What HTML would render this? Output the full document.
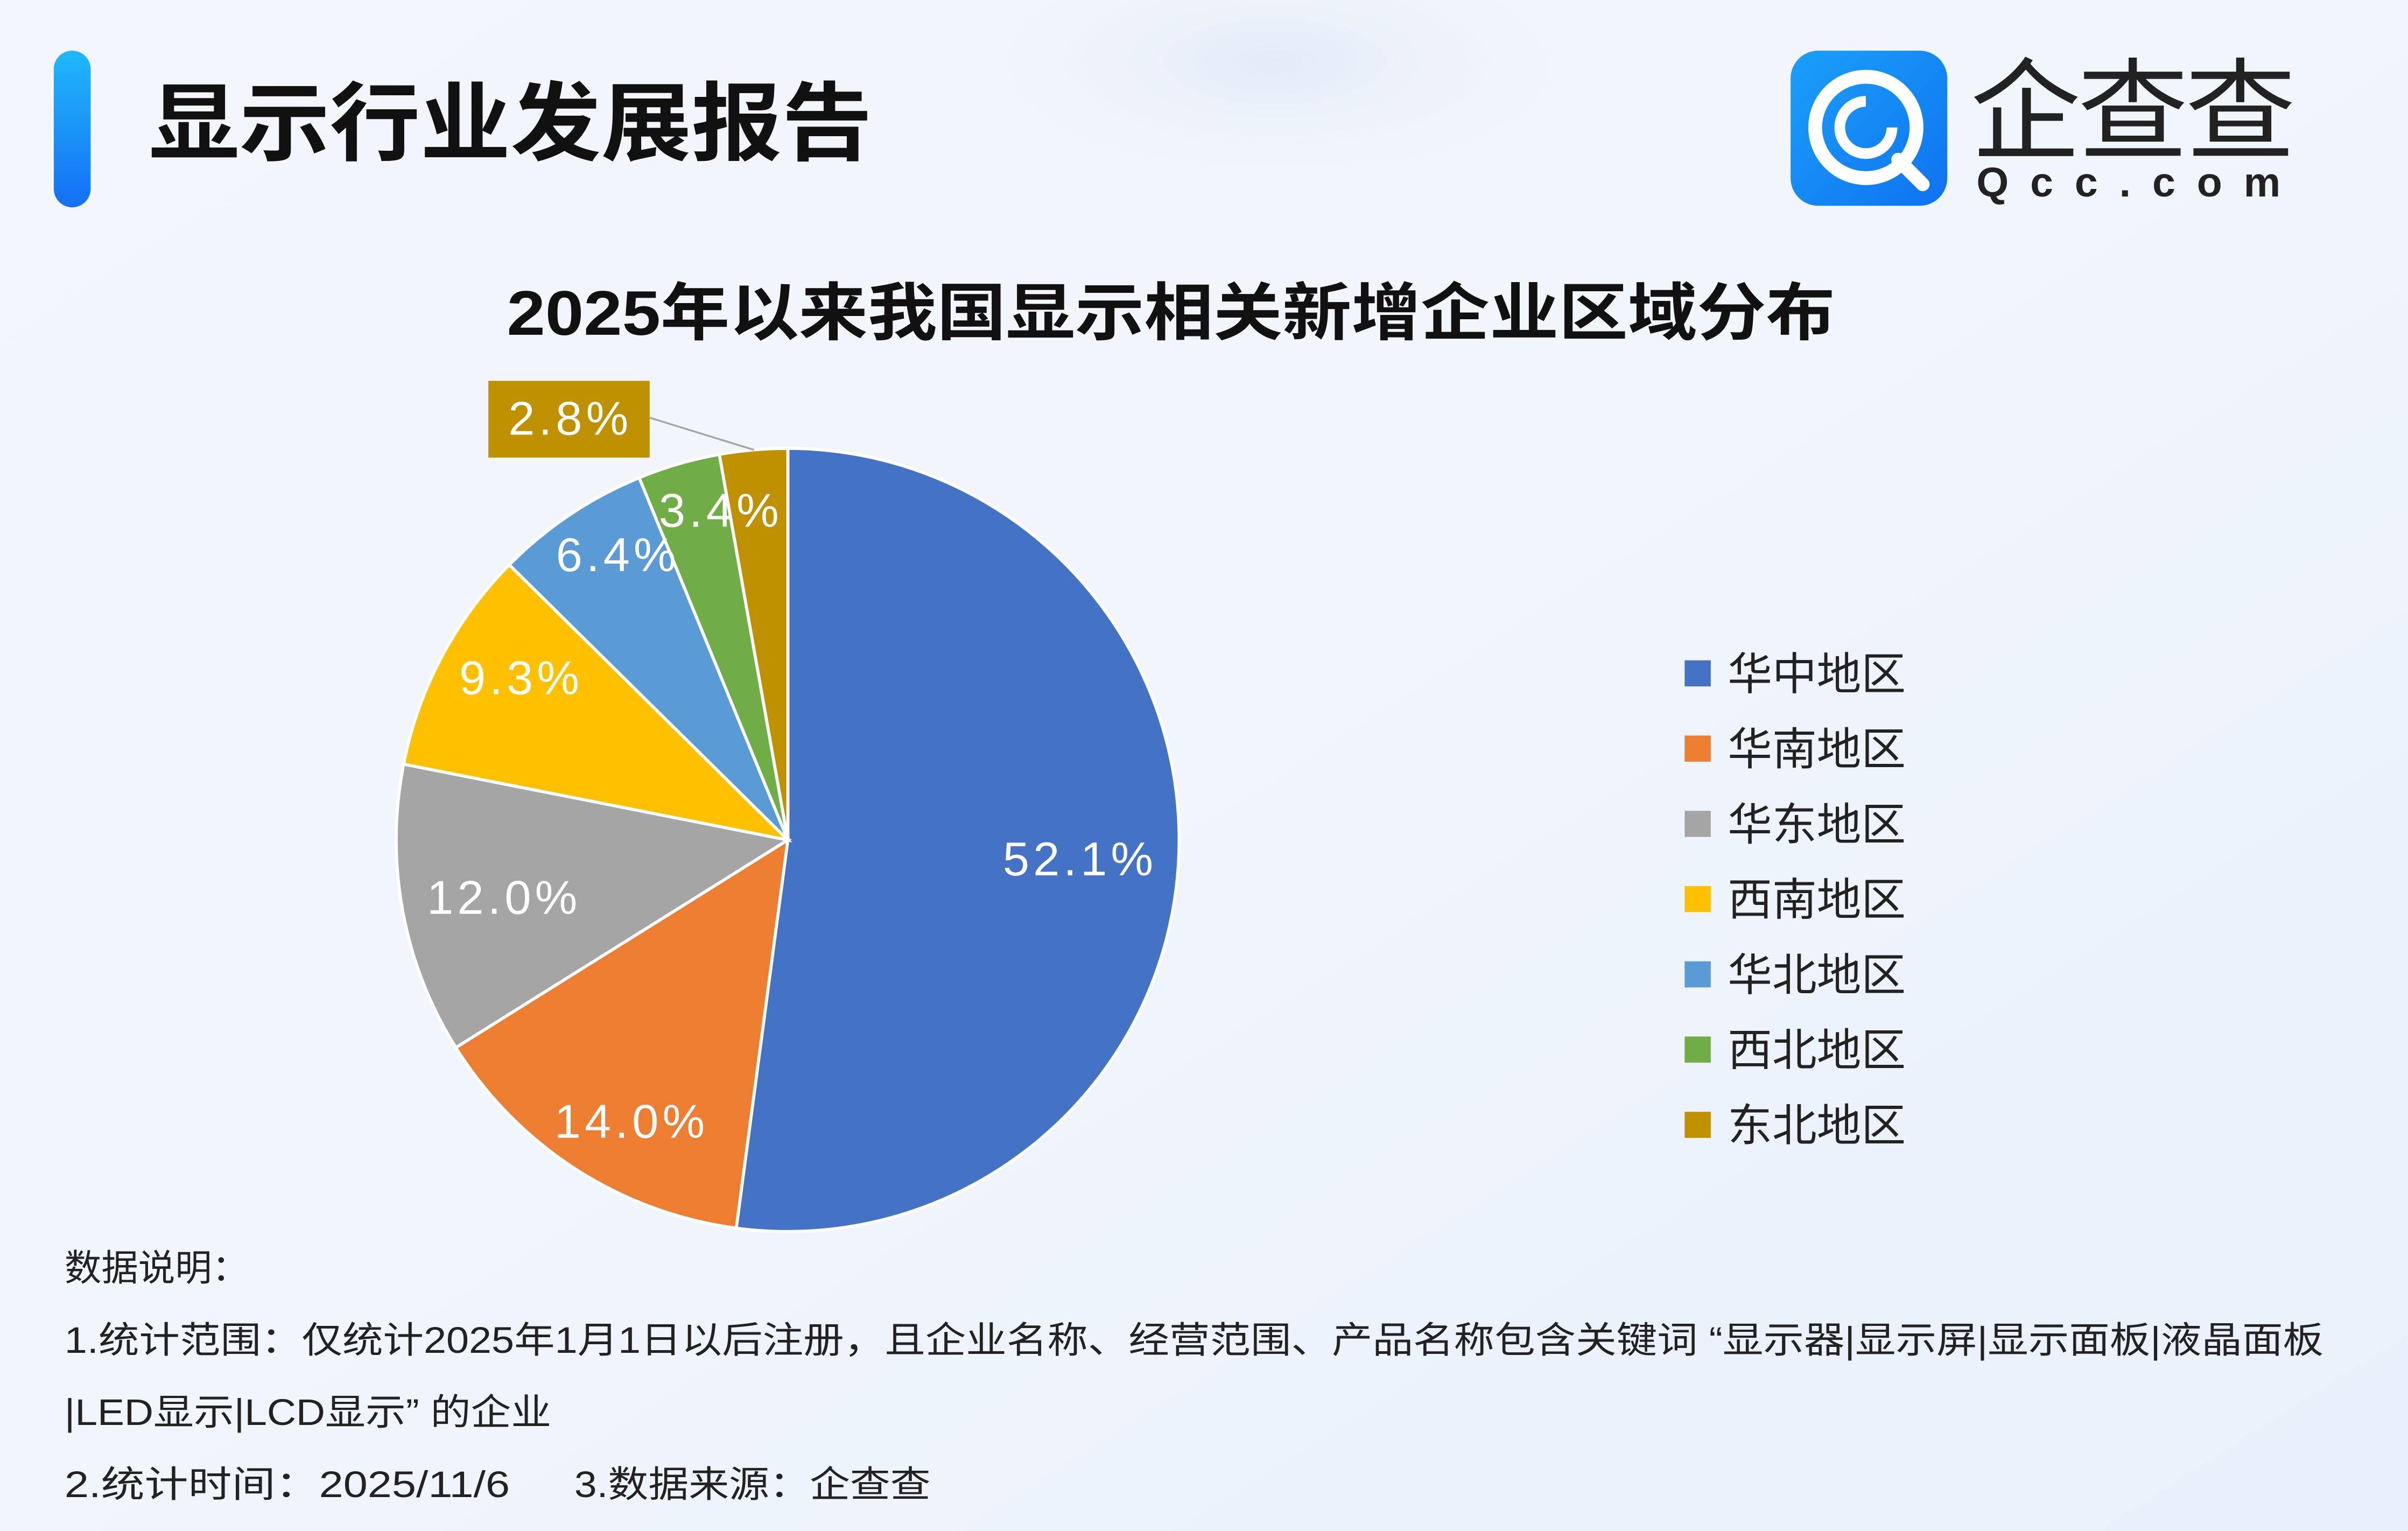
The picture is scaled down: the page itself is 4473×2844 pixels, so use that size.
<!DOCTYPE html>
<html><head><meta charset="utf-8"><style>
html,body{margin:0;padding:0;width:4473px;height:2844px;overflow:hidden;background:#f1f5fc;}
svg{display:block}
text{font-family:"Liberation Sans","Noto Sans CJK SC",sans-serif;}
</style></head><body>
<svg width="4473" height="2844" viewBox="0 0 1568 997" xmlns="http://www.w3.org/2000/svg">
<defs>
<linearGradient id="bg" x1="0" y1="0" x2="1" y2="1">
<stop offset="0" stop-color="#f3f6fc"/><stop offset="0.5" stop-color="#f1f5fc"/><stop offset="1" stop-color="#e8f0fb"/>
</linearGradient>
<radialGradient id="glow" cx="0.5" cy="0.5" r="0.5">
<stop offset="0" stop-color="#e3ebf8"/><stop offset="1" stop-color="#f1f5fc" stop-opacity="0"/>
</radialGradient>
<linearGradient id="bar" x1="0" y1="0" x2="0" y2="1">
<stop offset="0" stop-color="#1fb8fb"/><stop offset="1" stop-color="#1570f5"/>
</linearGradient>
<linearGradient id="logo" x1="0" y1="0" x2="1" y2="1">
<stop offset="0" stop-color="#1aa0fa"/><stop offset="1" stop-color="#0f72f0"/>
</linearGradient>
</defs>
<rect width="1568" height="997" fill="url(#bg)"/>
<ellipse cx="830" cy="40" rx="230" ry="90" fill="url(#glow)"/>
<rect x="35" y="33" width="24" height="102" rx="12" fill="url(#bar)"/>
<text x="97" y="100" font-size="56" font-weight="bold" fill="#111" textLength="471" lengthAdjust="spacingAndGlyphs">显示行业发展报告</text>
<rect x="1166" y="33" width="102" height="101" rx="18" fill="url(#logo)"/>
<circle cx="1215" cy="83" r="33" fill="none" stroke="#fff" stroke-width="9"/>
<path d="M1215,66 A17,17 0 1,0 1232,83" fill="none" stroke="#fff" stroke-width="7"/>
<line x1="1236" y1="104" x2="1252" y2="120" stroke="#fff" stroke-width="9" stroke-linecap="round"/>
<text x="1283" y="98" font-size="72" fill="#222" textLength="212">企查查</text>
<text x="1287" y="128" font-size="27" font-weight="bold" fill="#222" letter-spacing="14">Qcc.com</text>
<text x="330" y="218" font-size="41" font-weight="bold" fill="#111" textLength="865" lengthAdjust="spacingAndGlyphs">2025年以来我国显示相关新增企业区域分布</text>
<g stroke="#fff" stroke-width="2">
<path d="M513,547 L513,292 A255,255 0 1,1 479.4,799.8 Z" fill="#4472c4"/>
<path d="M513,547 L479.4,799.8 A255,255 0 0,1 296.8,682.2 Z" fill="#ed7d31"/>
<path d="M513,547 L296.8,682.2 A255,255 0 0,1 262.8,497.6 Z" fill="#a5a5a5"/>
<path d="M513,547 L262.8,497.6 A255,255 0 0,1 331.6,367.8 Z" fill="#ffc000"/>
<path d="M513,547 L331.6,367.8 A255,255 0 0,1 416.2,311.1 Z" fill="#5b9bd5"/>
<path d="M513,547 L416.2,311.1 A255,255 0 0,1 468.4,295.9 Z" fill="#70ad47"/>
<path d="M513,547 L468.4,295.9 A255,255 0 0,1 513,292 Z" fill="#bf9000"/>
</g>
<g font-size="31" fill="#fff" letter-spacing="2.5">
<text x="653" y="570">52.1%</text>
<text x="361" y="741">14.0%</text>
<text x="278" y="595">12.0%</text>
<text x="299" y="452">9.3%</text>
<text x="362" y="372">6.4%</text>
<text x="429" y="343">3.4%</text>
<text x="331" y="283">2.8%</text>
</g>
<line x1="423" y1="272" x2="491" y2="293" stroke="#a5a5a5" stroke-width="1.2"/>
<rect x="318" y="248" width="105" height="50" fill="#bf9000"/>
<text x="331" y="283" font-size="31" fill="#fff" letter-spacing="2.5">2.8%</text>
<g font-size="29" fill="#222">
<rect x="1097" y="430" width="17" height="17" fill="#4472c4"/><text x="1125" y="449">华中地区</text>
<rect x="1097" y="479" width="17" height="17" fill="#ed7d31"/><text x="1125" y="498">华南地区</text>
<rect x="1097" y="528" width="17" height="17" fill="#a5a5a5"/><text x="1125" y="547">华东地区</text>
<rect x="1097" y="577" width="17" height="17" fill="#ffc000"/><text x="1125" y="596">西南地区</text>
<rect x="1097" y="626" width="17" height="17" fill="#5b9bd5"/><text x="1125" y="645">华北地区</text>
<rect x="1097" y="675" width="17" height="17" fill="#70ad47"/><text x="1125" y="694">西北地区</text>
<rect x="1097" y="724" width="17" height="17" fill="#bf9000"/><text x="1125" y="743">东北地区</text>
</g>
<g font-size="24" fill="#222">
<text x="42" y="834">数据说明：</text>
<text x="42" y="881" textLength="1471" lengthAdjust="spacingAndGlyphs">1.统计范围：仅统计2025年1月1日以后注册，且企业名称、经营范围、产品名称包含关键词 “显示器|显示屏|显示面板|液晶面板</text>
<text x="42" y="928" textLength="317" lengthAdjust="spacingAndGlyphs">|LED显示|LCD显示” 的企业</text>
<text x="42" y="975" textLength="290" lengthAdjust="spacingAndGlyphs">2.统计时间：2025/11/6</text>
<text x="374" y="975" textLength="232" lengthAdjust="spacingAndGlyphs">3.数据来源：企查查</text>
</g>
</svg>
</body></html>
